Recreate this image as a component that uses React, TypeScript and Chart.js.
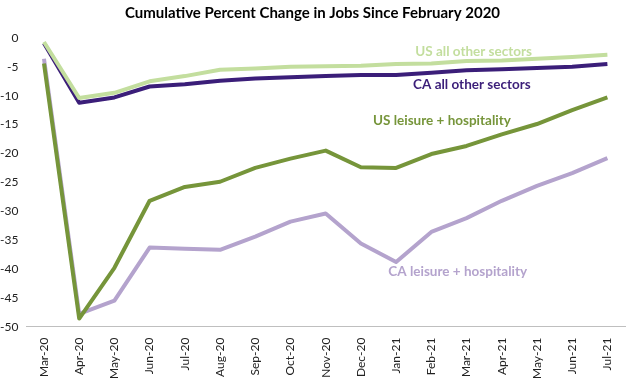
import React, { useEffect, useRef } from "react";
import { Chart, registerables } from "chart.js";

Chart.register(...registerables);

const months = ["Mar-20","Apr-20","May-20","Jun-20","Jul-20","Aug-20","Sep-20","Oct-20","Nov-20","Dec-20","Jan-21","Feb-21","Mar-21","Apr-21","May-21","Jun-21","Jul-21"];
const usOther = [-0.7,-10.4,-9.5,-7.5,-6.6,-5.5,-5.3,-5.0,-4.9,-4.8,-4.5,-4.4,-4.0,-3.9,-3.6,-3.3,-2.9];
const caOther = [-0.9,-11.2,-10.3,-8.4,-8.0,-7.4,-7.0,-6.8,-6.6,-6.4,-6.4,-6.0,-5.6,-5.4,-5.2,-5.0,-4.5];
const usLeisure = [-4.4,-48.6,-39.8,-28.2,-25.8,-24.9,-22.5,-20.9,-19.5,-22.4,-22.5,-20.1,-18.7,-16.7,-14.9,-12.5,-10.3];
const caLeisure = [-3.6,-47.8,-45.5,-36.3,-36.5,-36.7,-34.4,-31.8,-30.4,-35.6,-38.8,-33.6,-31.2,-28.2,-25.6,-23.4,-20.8];

const seriesNames = ["US all other sectors","CA all other sectors","US leisure + hospitality","CA leisure + hospitality"];
const seriesData = [usOther, caOther, usLeisure, caLeisure];
const seriesColors = ["#C3DE9E","#3B1E79","#76953A","#B4A3CD"];
// label anchors: category position and value
const labelAt = [12.2, 12.15, 11.3, 11.75];
const labelVal = [-2.4, -8.0, -14.4, -40.4];

const title = "Cumulative Percent Change in Jobs Since February 2020";

const labelPlugin = {
  id: "seriesLabels",
  afterDatasetsDraw(chart: any) {
    const { ctx, scales } = chart;
    ctx.save();
    ctx.font = "bold 13.5px Lato, 'Open Sans', sans-serif";
    ctx.textAlign = "center";
    ctx.textBaseline = "middle";
    seriesNames.forEach((name, i) => {
      const x = scales.x.getPixelForValue(labelAt[i]);
      const y = scales.y.getPixelForValue(labelVal[i]);
      ctx.fillStyle = seriesColors[i];
      ctx.fillText(name, x, y);
    });
    ctx.restore();
  },
};

export default function App() {
  const ref = useRef<HTMLCanvasElement>(null);
  useEffect(() => {
    document.body.style.margin = "0";
    const chart = new Chart(ref.current!, {
      type: "line",
      data: {
        labels: months,
        datasets: seriesData.map((d, i) => ({
          label: seriesNames[i],
          data: d,
          borderColor: seriesColors[i],
          backgroundColor: seriesColors[i],
          borderWidth: 4,
          pointRadius: 0,
          tension: 0,
          borderJoinStyle: "round" as const,
        })),
      },
      options: {
        animation: false,
        responsive: false,
        maintainAspectRatio: false,
        layout: { padding: { top: 0, right: 3, left: 0, bottom: 0 } },
        plugins: {
          legend: { display: false },
          tooltip: { enabled: false },
          title: {
            display: true,
            text: title,
            color: "#000",
            font: { family: "Lato, 'Open Sans', sans-serif", size: 15, weight: "bold" },
            padding: { top: 4, bottom: 16 },
          },
        },
        scales: {
          x: {
            offset: true,
            grid: { display: false },
            border: { display: true, color: "#BFBFBF", width: 1 },
            ticks: {
              minRotation: 90,
              maxRotation: 90,
              autoSkip: false,
              color: "#222",
              font: { family: "Lato, 'Open Sans', sans-serif", size: 12 },
            },
          },
          y: {
            min: -50,
            max: 0,
            grid: { display: false },
            border: { display: false },
            ticks: {
              stepSize: 5,
              color: "#222",
              padding: 0,
              font: { family: "Lato, 'Open Sans', sans-serif", size: 12 },
            },
          },
        },
      },
      plugins: [labelPlugin],
    });
    return () => chart.destroy();
  }, []);
  return (
    <div style={{ width: 628, height: 382 }}>
      <canvas ref={ref} width={628} height={382} style={{ display: "block" }} />
    </div>
  );
}
